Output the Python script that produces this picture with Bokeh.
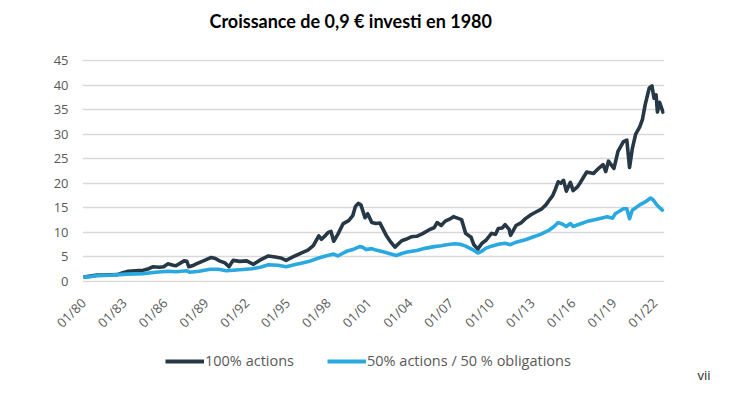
import math
from bokeh.plotting import figure
from bokeh.models import Range1d, FixedTicker, Legend, LegendItem, Label
from bokeh.embed import file_html
from bokeh.resources import INLINE

# ---- data ----
actions_years = [1980.0, 1980.5, 1981.0, 1981.5, 1982.0, 1982.5, 1982.9, 1983.3, 1983.8, 1984.4,
                 1984.8, 1985.1, 1985.6, 1985.9, 1986.2, 1986.6, 1986.8, 1987.4, 1987.6, 1987.75,
                 1988.0, 1988.3, 1988.9, 1989.4, 1989.7, 1990.0, 1990.4, 1990.7, 1991.0, 1991.5,
                 1992.0, 1992.5, 1993.0, 1993.6, 1994.1, 1994.5, 1994.9, 1995.4, 1996.0, 1996.5,
                 1996.9, 1997.3, 1997.5, 1997.8, 1998.0, 1998.2, 1998.4, 1998.7, 1999.1, 1999.5,
                 1999.8, 2000.0, 2000.2, 2000.4, 2000.7, 2000.9, 2001.2, 2001.5, 2001.8, 2002.3,
                 2002.6, 2002.9, 2003.4, 2003.7, 2004.1, 2004.5, 2004.9, 2005.4, 2005.8, 2006.0,
                 2006.3, 2006.6, 2007.0, 2007.2, 2007.6, 2007.8, 2008.1, 2008.5, 2008.7, 2009.0,
                 2009.3, 2009.6, 2010.0, 2010.3, 2010.5, 2010.8, 2011.0, 2011.3, 2011.4, 2011.8,
                 2012.2, 2012.5, 2012.9, 2013.3, 2013.7, 2014.0, 2014.2, 2014.5, 2014.7, 2014.9,
                 2015.1, 2015.3, 2015.5, 2015.8, 2016.0, 2016.3, 2016.5, 2017.0, 2017.5, 2017.9,
                 2018.2, 2018.4, 2018.6, 2019.0, 2019.3, 2019.7, 2019.95, 2020.15, 2020.35, 2020.6,
                 2020.9, 2021.1, 2021.3, 2021.6, 2021.8, 2021.95, 2022.1, 2022.2, 2022.35, 2022.65]
actions_values = [0.9, 1.1, 1.3, 1.3, 1.35, 1.4, 1.8, 2.1, 2.2, 2.3,
                  2.6, 3.0, 2.9, 3.0, 3.6, 3.3, 3.2, 4.2, 4.1, 3.0,
                  3.2, 3.6, 4.3, 4.9, 4.7, 4.2, 3.8, 3.0, 4.3, 4.1,
                  4.2, 3.5, 4.4, 5.2, 5.0, 4.8, 4.3, 5.0, 5.8, 6.4,
                  7.3, 9.3, 8.6, 9.4, 10.0, 10.2, 8.2, 9.6, 11.8, 12.4,
                  13.4, 15.3, 15.9, 15.6, 13.0, 13.8, 12.0, 11.8, 11.9, 9.2,
                  8.0, 7.0, 8.3, 8.6, 9.1, 9.2, 9.7, 10.5, 11.0, 12.0,
                  11.4, 12.3, 12.8, 13.2, 12.8, 12.6, 9.8, 9.0, 7.5, 6.6,
                  7.8, 8.4, 9.8, 9.6, 10.8, 10.9, 11.6, 10.6, 9.4, 11.4,
                  12.0, 12.8, 13.6, 14.2, 14.8, 15.6, 16.4, 17.5, 18.8, 20.3,
                  20.0, 20.6, 18.4, 20.2, 18.5, 19.2, 20.0, 22.3, 22.0, 23.1,
                  23.8, 22.4, 24.5, 23.0, 26.5, 28.5, 28.8, 23.2, 27.0, 30.0,
                  31.5, 33.0, 36.0, 39.4, 39.8, 37.3, 38.0, 34.5, 36.5, 34.2]

mix_years = [1980.0, 1980.5, 1981.0, 1982.0, 1982.6, 1983.2, 1984.4, 1985.3, 1986.2, 1986.8,
             1987.6, 1987.8, 1988.5, 1989.3, 1989.9, 1990.5, 1991.0, 1992.4, 1993.0, 1993.6,
             1994.3, 1994.9, 1995.5, 1996.0, 1996.7, 1997.3, 1997.8, 1998.4, 1998.7, 1999.3,
             1999.8, 2000.3, 2000.5, 2000.8, 2001.2, 2001.5, 2002.1, 2002.6, 2003.0, 2003.4,
             2003.8, 2004.5, 2005.2, 2005.8, 2006.3, 2006.7, 2007.3, 2007.7, 2008.1, 2008.6,
             2009.0, 2009.3, 2009.6, 2010.0, 2010.5, 2011.0, 2011.4, 2011.8, 2012.5, 2013.0,
             2013.6, 2014.2, 2014.6, 2014.9, 2015.2, 2015.5, 2015.8, 2016.0, 2016.4, 2017.0,
             2017.9, 2018.5, 2018.9, 2019.1, 2019.7, 2019.95, 2020.15, 2020.35, 2020.9, 2021.3,
             2021.7, 2021.9, 2022.1, 2022.3, 2022.65]
mix_values = [0.9, 1.0, 1.2, 1.3, 1.4, 1.5, 1.6, 1.9, 2.1, 2.0,
              2.2, 1.9, 2.1, 2.5, 2.5, 2.2, 2.3, 2.6, 2.9, 3.4,
              3.3, 3.0, 3.4, 3.7, 4.2, 4.8, 5.2, 5.6, 5.2, 6.1,
              6.5, 7.1, 7.0, 6.5, 6.7, 6.4, 6.0, 5.6, 5.3, 5.7,
              6.0, 6.3, 6.8, 7.1, 7.3, 7.5, 7.7, 7.6, 7.2, 6.5,
              5.8, 6.2, 6.8, 7.2, 7.6, 7.8, 7.5, 8.0, 8.5, 9.0,
              9.6, 10.4, 11.2, 12.0, 11.7, 11.2, 11.8, 11.2, 11.6, 12.2,
              12.8, 13.2, 12.9, 13.8, 14.8, 14.8, 12.8, 14.5, 15.6, 16.2,
              17.0, 16.6, 15.8, 15.2, 14.3]

tick_years = [1980, 1983, 1986, 1989, 1992, 1995, 1998, 2001, 2004, 2007, 2010, 2013, 2016, 2019, 2022]
tick_labels = ["01/80", "01/83", "01/86", "01/89", "01/92", "01/95", "01/98", "01/01",
               "01/04", "01/07", "01/10", "01/13", "01/16", "01/19", "01/22"]
y_ticks = [0, 5, 10, 15, 20, 25, 30, 35, 40, 45]

series_names = ["100% actions", "50% actions / 50 % obligations"]
title_text = "Croissance de 0,9 € investi en 1980"
note_text = "vii"

DARK = "#263746"
BLUE = "#2aa9e0"
GREY = "#595959"
FONT = "Open Sans"
LINE_W = 3.6
W = 730

def strip(height):
    f = figure(width=W, height=height, output_backend="svg", toolbar_location=None,
               x_range=Range1d(0, 1), y_range=Range1d(0, 1),
               x_axis_type=None, y_axis_type=None, min_border=0,
               background_fill_color="white", border_fill_color="white")
    f.outline_line_color = None
    f.grid.visible = False
    return f

# ---- title strip ----
p0 = strip(38)
p0.add_layout(Label(x=209, y=18, x_units="screen", y_units="screen", text=title_text,
                    text_font="Lato", text_font_style="bold", text_font_size="18px",
                    text_color="black", text_align="left", text_baseline="middle"))

# ---- main chart ----
p = figure(width=W, height=305, output_backend="svg", toolbar_location=None,
           x_range=Range1d(1979.93, 2022.72), y_range=Range1d(-0.2, 45.2),
           min_border_left=82, min_border_right=66, min_border_top=21, min_border_bottom=61,
           background_fill_color="white", border_fill_color="white")
p.outline_line_color = None

p.xaxis.ticker = FixedTicker(ticks=tick_years)
p.xaxis.major_label_overrides = {t: l for t, l in zip(tick_years, tick_labels)}
p.xaxis.major_label_orientation = math.pi / 4
p.yaxis.ticker = FixedTicker(ticks=y_ticks)
for ax in (p.xaxis[0], p.yaxis[0]):
    ax.axis_line_color = None
    ax.major_tick_line_color = None
    ax.minor_tick_line_color = None
    ax.major_tick_out = 0
    ax.major_tick_in = 0
    ax.major_label_text_color = GREY
    ax.major_label_text_font = FONT
    ax.major_label_text_font_size = "13px"
p.xaxis.major_label_standoff = 18
p.yaxis.major_label_standoff = 14

p.xgrid.grid_line_color = None
p.ygrid.ticker = FixedTicker(ticks=y_ticks)
p.ygrid.grid_line_color = "#d9d9d9"
p.ygrid.grid_line_width = 1.6

p.line(actions_years, actions_values, line_color=DARK, line_width=LINE_W, line_join="round")
p.line(mix_years, mix_values, line_color=BLUE, line_width=LINE_W, line_join="round")

# ---- legend / note strip (series drawn out of view: only their legend keys show) ----
p2 = strip(42)
k1 = p2.line(actions_years, actions_values, line_color=DARK, line_width=4)
k2 = p2.line(mix_years, mix_values, line_color=BLUE, line_width=4)

legend = Legend(items=[LegendItem(label=series_names[0], renderers=[k1]),
                       LegendItem(label=series_names[1], renderers=[k2])],
                orientation="horizontal", location=(165, 15),
                border_line_color=None, background_fill_alpha=0,
                padding=0, margin=0, spacing=33, label_standoff=1,
                glyph_width=39, glyph_height=16, label_height=16,
                label_text_font=FONT, label_text_font_size="14.5px", label_text_color=GREY)
p2.add_layout(legend, "center")

p2.add_layout(Label(x=697, y=11, x_units="screen", y_units="screen", text=note_text,
                    text_font=FONT, text_font_size="13px", text_color="#262626",
                    text_align="left", text_baseline="middle"))

open("out.html", "w").write(file_html([p0, p, p2], INLINE))
